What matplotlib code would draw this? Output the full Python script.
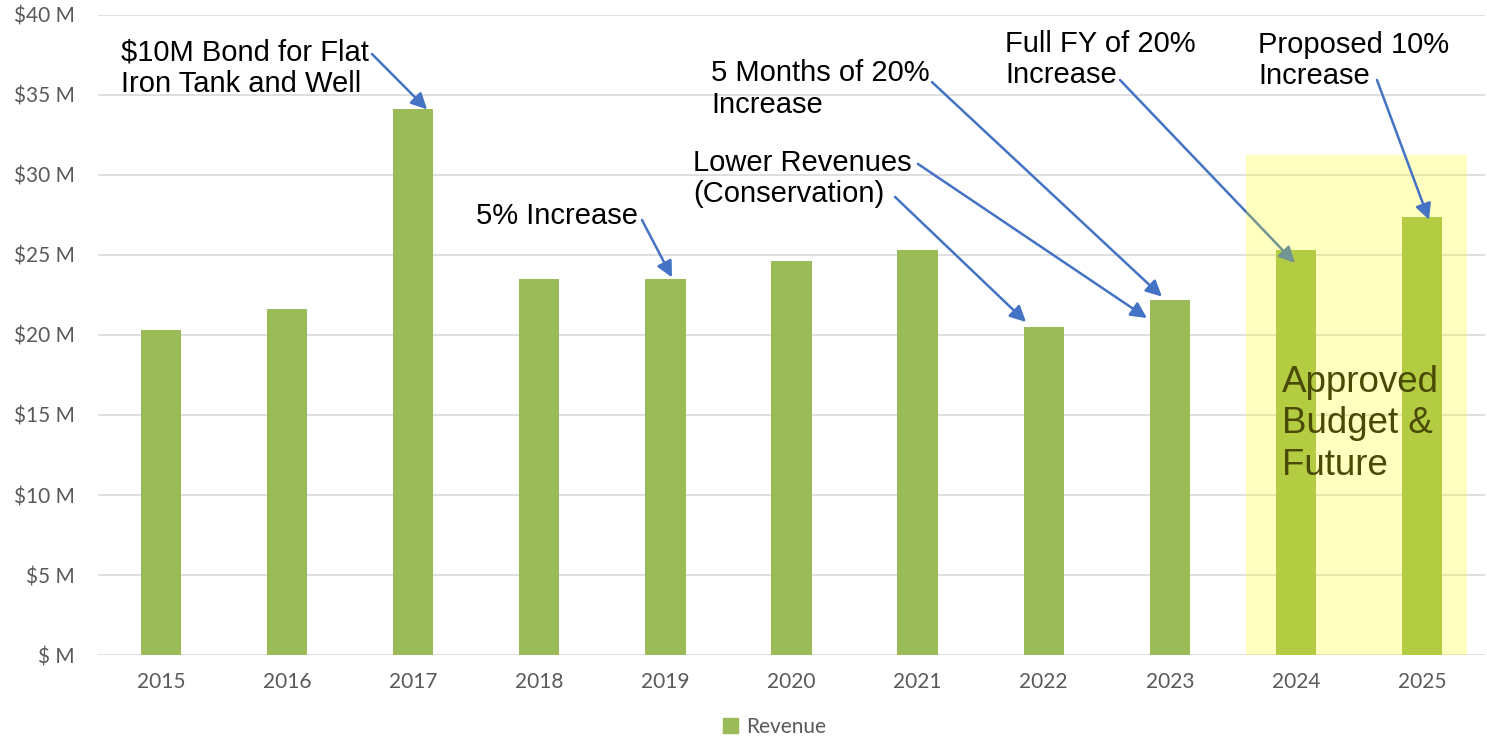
import matplotlib
matplotlib.use("Agg")
import matplotlib.pyplot as plt
from matplotlib.patches import Rectangle, Patch

# data
years = ["2015", "2016", "2017", "2018", "2019", "2020", "2021", "2022", "2023", "2024", "2025"]
revenue = [20.3, 21.6, 34.1, 23.5, 23.5, 24.6, 25.3, 20.5, 22.2, 25.3, 27.4]
yticks = [0, 5, 10, 15, 20, 25, 30, 35, 40]
ytick_labels = ["$ M", "$5 M", "$10 M", "$15 M", "$20 M", "$25 M", "$30 M", "$35 M", "$40 M"]

GREEN = "#9BBB59"
BLUE = "#4472C4"
GREY = "#595959"
GRID = "#D9D9D9"
ANN_FONT = "Liberation Sans"
TICK_FONT = "Lato"

fig = plt.figure(figsize=(14.87, 7.40), dpi=100)
ax = fig.add_axes([98 / 1487, 85 / 740, 1387 / 1487, 640 / 740])

x = list(range(len(years)))
ax.bar(x, revenue, width=0.32, color=GREEN, zorder=2)

ax.set_xlim(-0.5, 10.5)
ax.set_ylim(0, 40)
ax.set_yticks(yticks)
ax.set_yticklabels(ytick_labels)
ax.set_xticks(x)
ax.set_xticklabels(years)
ax.tick_params(axis="y", length=0, pad=17, labelsize=15, labelcolor=GREY)
ax.tick_params(axis="x", length=0, pad=12, labelsize=15, labelcolor=GREY)
for lab in ax.get_xticklabels() + ax.get_yticklabels():
    lab.set_family(TICK_FONT)
ax.grid(axis="y", color=GRID, lw=1.2, zorder=0)
for s in ax.spines.values():
    s.set_visible(False)

# approved budget / future highlight
ax.add_patch(Rectangle((8.604, 0), 1.753, 31.25, facecolor="yellow", alpha=0.25,
                       edgecolor="none", zorder=4))
# y is the baseline of the last line
ax.text(8.89, 11.25, "Approved\nBudget &\nFuture", fontsize=26.5, family=ANN_FONT,
        color="#4A4A05", ha="left", va="baseline", linespacing=1.25, zorder=6)

arrow = dict(arrowstyle="-|>", color=BLUE, lw=1.8, mutation_scale=24,
             shrinkA=0, shrinkB=0)

def note(text, txy, start, tip, z=5):
    ax.text(txy[0], txy[1], text, fontsize=21, family=ANN_FONT, color="black",
            ha="left", va="baseline", linespacing=1.15, zorder=6)
    ax.annotate("", xy=tip, xytext=start, arrowprops=arrow, zorder=z)

note("$10M Bond for Flat\nIron Tank and Well", (-0.317, 35.19), (1.673, 37.56), (2.11, 34.1))
note("5% Increase", (2.498, 26.94), (3.814, 27.19), (4.052, 23.6))
note("Lower Revenues\n(Conservation)", (4.219, 28.3), (6.003, 30.69), (7.819, 21.06))
ax.annotate("", xy=(6.86, 20.81), xytext=(5.821, 28.63), arrowprops=arrow, zorder=5)
note("5 Months of 20%\nIncrease", (4.362, 33.9), (6.114, 35.81), (7.938, 22.4))
note("Full FY of 20%\nIncrease", (6.693, 35.75), (7.605, 35.94), (8.993, 24.5), z=3)
note("Proposed 10%\nIncrease", (8.70, 35.69), (9.643, 35.94), (10.056, 27.2))

fig.legend(handles=[Patch(color=GREEN, label="Revenue")], loc="center",
           bbox_to_anchor=(0.521, 13 / 740), frameon=False, handlelength=0.7,
           handleheight=0.7, handletextpad=0.4,
           prop={"family": TICK_FONT, "size": 15}, labelcolor=GREY)

fig.savefig("out.png", dpi=100)
